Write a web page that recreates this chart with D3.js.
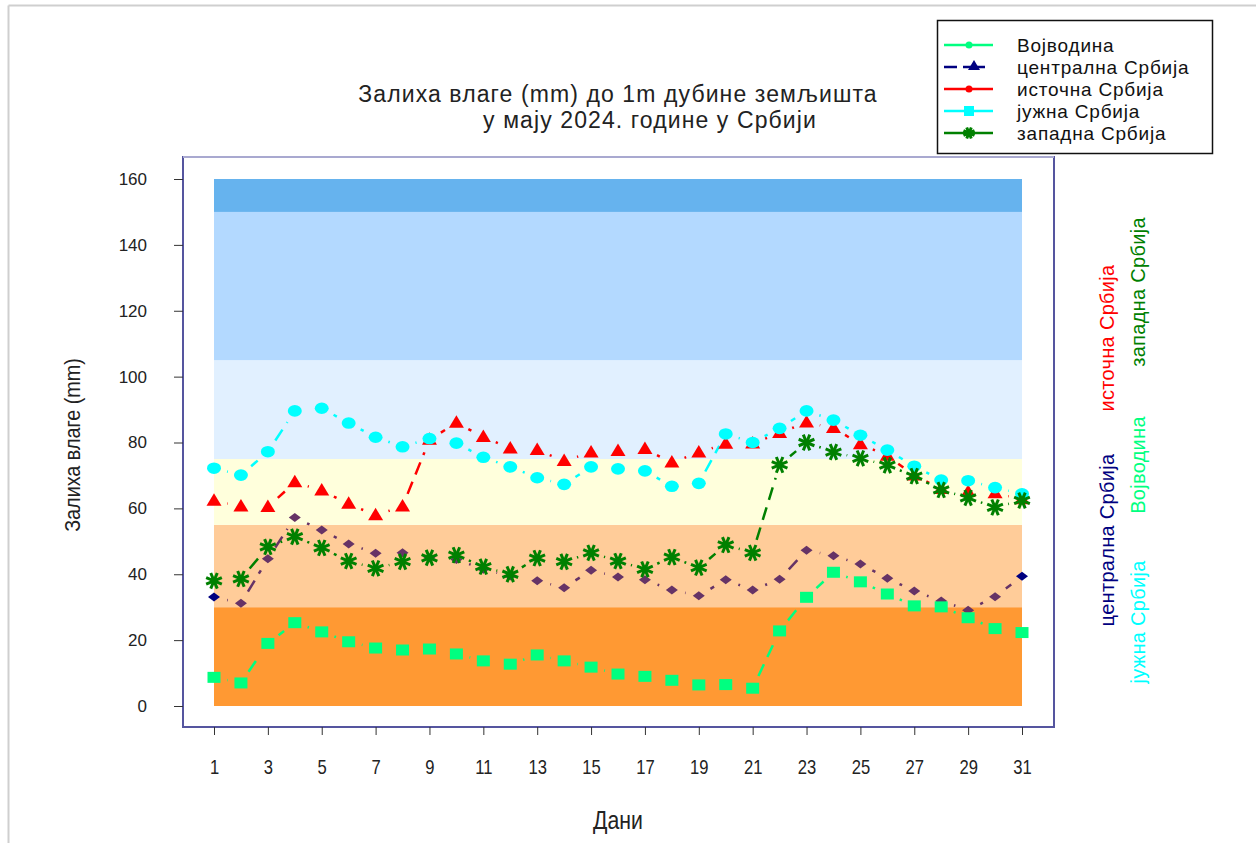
<!DOCTYPE html>
<html>
<head>
<meta charset="utf-8">
<script src="https://cdn.jsdelivr.net/npm/d3@7"></script>
<style>
  body { margin: 0; background: #fff; }
  svg text { font-family: "Liberation Sans", Arial, sans-serif; }
</style>
</head>
<body>
<div id="chart"></div>
<script>
// soil moisture (mm) to 1m depth, May 2024, five regions of Serbia
var days = d3.range(1, 32);
var vojvodina = [8.7, 7, 19, 25.3, 22.5, 19.5, 17.6, 17, 17.3, 15.8, 13.7, 12.7, 15.5, 13.7, 11.8, 9.7, 9, 7.8, 6.4, 6.5, 5.4, 22.8, 33, 40.6, 37.7, 34, 30.4, 30.1, 26.8, 23.5, 22.3];
var centralna = [33.1, 31.2, 44.7, 57.2, 53.4, 49.2, 46.4, 46.5, 45, 44.5, 41.5, 39.5, 38, 35.9, 41.2, 39.2, 38.3, 35.2, 33.5, 38.3, 35.2, 38.5, 47.3, 45.6, 43.1, 38.8, 34.9, 31.9, 29.1, 33.2, 39.4];
var istocna = [62.3, 60.6, 60.4, 67.9, 65.4, 61.4, 57.9, 60.6, 80.8, 86, 81.7, 78.2, 77.7, 74.4, 77, 77.4, 78, 73.9, 77, 79.6, 79.7, 82.9, 86.1, 84.4, 79.5, 76, 70, 65.9, 65, 64.6, 62.8];
var juzna = [72.2, 70.1, 77.2, 89.6, 90.4, 85.9, 81.6, 78.7, 81.2, 79.8, 75.5, 72.6, 69.3, 67.3, 72.6, 72, 71.4, 66.7, 67.6, 82.6, 80, 84.3, 89.6, 86.8, 82.2, 77.7, 72.8, 68.6, 68.4, 66.3, 64.4];
var zapadna = [38, 38.6, 48.3, 51.4, 48, 44, 41.8, 43.8, 45, 45.8, 42.3, 40, 44.9, 43.8, 46.5, 44, 41.5, 45.2, 42, 48.9, 46.5, 73.2, 80, 77.1, 75.2, 73.1, 69.8, 65.6, 63.2, 60.3, 62.4];

var seriesNames = ["Војводина", "централна Србија", "источна Србија", "јужна Србија", "западна Србија"];
var seriesColors = ["#00FF80", "#000080", "#FF0000", "#00FFFF", "#008000"];

// moisture classes drawn as horizontal bands
var bandLimits = [0, 30, 55, 75, 105, 150, 160];
var bandColors = ["#FF9933", "#FFCC99", "#FFFFDC", "#E1F0FF", "#B3D9FF", "#66B3EE"];

var yTicks = d3.range(0, 161, 20);
var xTicks = d3.range(1, 32, 2);

var W = 1256, H = 843;
var svg = d3.select("#chart").append("svg").attr("width", W).attr("height", H);

// outer border (only top and left visible)
svg.append("line").attr("x1", 8.5).attr("y1", 5.5).attr("x2", W).attr("y2", 5.5)
  .attr("stroke", "#cfcfcf").attr("stroke-width", 2);
svg.append("line").attr("x1", 8.5).attr("y1", 5.5).attr("x2", 8.5).attr("y2", H)
  .attr("stroke", "#cfcfcf").attr("stroke-width", 2);

var x = d3.scaleLinear().domain([1, 31]).range([214, 1022]);
var y = d3.scaleLinear().domain([0, 160]).range([706, 179]);

var frame = {left: 183, top: 157, right: 1054, bottom: 727};

// bands
for (var i = 0; i < bandColors.length; i++) {
  svg.append("rect")
    .attr("x", x(1)).attr("width", x(31) - x(1))
    .attr("y", y(bandLimits[i + 1])).attr("height", y(bandLimits[i]) - y(bandLimits[i + 1]))
    .attr("fill", bandColors[i]);
}

// plot frame
svg.append("rect").attr("x", frame.left).attr("y", frame.top)
  .attr("width", frame.right - frame.left).attr("height", frame.bottom - frame.top)
  .attr("fill", "none").attr("stroke", "#55559F").attr("stroke-width", 2);
svg.append("line").attr("x1", frame.left).attr("x2", frame.right)
  .attr("y1", frame.top).attr("y2", frame.top).attr("stroke", "#A9A9D0").attr("stroke-width", 2);

// axes
var yAxis = svg.append("g").attr("transform", "translate(" + frame.left + ",0)")
  .call(d3.axisLeft(y).tickValues(yTicks).tickSize(9).tickPadding(27));
var xAxis = svg.append("g").attr("transform", "translate(0," + frame.bottom + ")")
  .call(d3.axisBottom(x).tickValues(xTicks).tickSize(8).tickPadding(25));
[yAxis, xAxis].forEach(function(a) {
  a.select(".domain").remove();
  a.selectAll(".tick line").attr("stroke", "#333");
});
yAxis.selectAll("text").attr("font-size", 17).attr("fill", "#222")
  .style("font-family", "'Liberation Sans', Arial, sans-serif");
xAxis.selectAll("text").attr("font-size", 20).attr("fill", "#222")
  .attr("transform", "scale(0.83,1)")
  .style("font-family", "'Liberation Sans', Arial, sans-serif");

// axis titles
svg.append("text")
  .attr("transform", "translate(80,445) rotate(-90) scale(0.9,1)")
  .attr("text-anchor", "middle").attr("font-size", 22).attr("fill", "#222")
  .text("Залиха влаге (mm)");
svg.append("text")
  .attr("transform", "translate(618,829) scale(0.85,1)")
  .attr("text-anchor", "middle")
  .attr("font-size", 25).attr("fill", "#222").text("Дани");

// title
svg.append("text").attr("x", 618).attr("y", 102).attr("text-anchor", "middle")
  .attr("font-size", 23).attr("letter-spacing", 1.1).attr("fill", "#222")
  .text("Залиха влаге (mm) до 1m дубине земљишта");
svg.append("text").attr("x", 650).attr("y", 128).attr("text-anchor", "middle")
  .attr("font-size", 23).attr("letter-spacing", 1.1).attr("fill", "#222")
  .text("у мају 2024. године у Србији");

// line segments: only the middle of every segment shows (markers hide the ends)
function drawLine(values, color) {
  var g = svg.append("g");
  for (var k = 0; k < values.length - 1; k++) {
    var x0 = x(days[k]), y0 = y(values[k]), x1 = x(days[k + 1]), y1 = y(values[k + 1]);
    var L = Math.hypot(x1 - x0, y1 - y0), gap = 13.5;
    if (L - 2 * gap <= 0.5) continue;
    var pat = [0, gap], rest = L - 2 * gap;
    while (rest > 0) {
      var d = Math.min(13, rest);
      pat.push(d); rest -= d;
      if (rest > 0) { var o = Math.min(8, rest); pat.push(o); rest -= o; }
    }
    if (pat.length % 2 === 1) pat.push(0);
    pat.push(0, L);
    g.append("line").attr("x1", x0).attr("y1", y0).attr("x2", x1).attr("y2", y1)
      .attr("stroke", color).attr("stroke-width", 2.5)
      .attr("stroke-dasharray", pat.join(","));
  }
}
drawLine(centralna, "#663366");
drawLine(istocna, "#FF0000");
drawLine(juzna, "#00FFFF");
drawLine(zapadna, "#008000");
drawLine(vojvodina, "#00FF80");

// marker shapes
function square(g, cx, cy, c) {
  g.append("rect").attr("x", cx - 6.5).attr("y", cy - 5.5).attr("width", 13).attr("height", 11).attr("fill", c);
}
function triangle(g, cx, cy, c, s) {
  s = s || 1;
  g.append("path").attr("d", "M" + cx + "," + (cy - 7.5 * s) + "L" + (cx + 7.5 * s) + "," + (cy + 5 * s) + "L" + (cx - 7.5 * s) + "," + (cy + 5 * s) + "Z").attr("fill", c);
}
function blob(g, cx, cy, c) {
  g.append("ellipse").attr("cx", cx).attr("cy", cy).attr("rx", 7).attr("ry", 5.8).attr("fill", c);
}
function diamond(g, cx, cy, c) {
  g.append("path").attr("d", "M" + (cx - 6) + "," + cy + "L" + cx + "," + (cy - 4.5) + "L" + (cx + 6) + "," + cy + "L" + cx + "," + (cy + 4.5) + "Z").attr("fill", c);
}
function star(g, cx, cy, c, r) {
  r = r || 8.5;
  for (var a = 0; a < 4; a++) {
    var t = a * Math.PI / 4 + Math.PI / 8;
    g.append("line").attr("x1", cx - r * Math.cos(t)).attr("y1", cy - r * Math.sin(t))
      .attr("x2", cx + r * Math.cos(t)).attr("y2", cy + r * Math.sin(t))
      .attr("stroke", c).attr("stroke-width", 3);
  }
  g.append("circle").attr("cx", cx).attr("cy", cy).attr("r", 3.5).attr("fill", c);
}

var mk = svg.append("g");
centralna.forEach(function(v, k) {
  var c = (k === 0 || k === centralna.length - 1) ? "#000080" : "#663366";
  diamond(mk, x(days[k]), y(v), c);
});
istocna.forEach(function(v, k) { triangle(mk, x(days[k]), y(v), "#FF0000"); });
juzna.forEach(function(v, k) { blob(mk, x(days[k]), y(v), "#00FFFF"); });
zapadna.forEach(function(v, k) { star(mk, x(days[k]), y(v), "#008000"); });
vojvodina.forEach(function(v, k) { square(mk, x(days[k]), y(v), "#00FF80"); });

// legend
var lg = svg.append("g");
lg.append("rect").attr("x", 937.5).attr("y", 20.5).attr("width", 275).attr("height", 133)
  .attr("fill", "#fff").attr("stroke", "#111").attr("stroke-width", 1.5);
var rowY = [45, 67, 89, 111, 133];
seriesNames.forEach(function(name, k) {
  var cy = rowY[k], c = seriesColors[k];
  if (k === 1) {
    lg.append("line").attr("x1", 944).attr("x2", 957).attr("y1", cy).attr("y2", cy).attr("stroke", c).attr("stroke-width", 2.5);
    lg.append("line").attr("x1", 963).attr("x2", 985).attr("y1", cy).attr("y2", cy).attr("stroke", c).attr("stroke-width", 2.5);
    triangle(lg, 974, cy - 1, c, 0.8);
  } else {
    lg.append("line").attr("x1", 944).attr("x2", 993).attr("y1", cy).attr("y2", cy).attr("stroke", c).attr("stroke-width", 2.5);
    if (k === 0 || k === 2) lg.append("circle").attr("cx", 969).attr("cy", cy).attr("r", 3.5).attr("fill", c);
    if (k === 3) lg.append("rect").attr("x", 964).attr("y", cy - 5).attr("width", 10).attr("height", 10).attr("fill", c);
    if (k === 4) star(lg, 969, cy, c, 6);
  }
  lg.append("text").attr("x", 1017).attr("y", cy + 6.5).attr("font-size", 19).attr("letter-spacing", 0.8)
    .attr("fill", "#111").text(name);
});

// rotated region labels on the right
var sideLabels = [
  {name: "источна Србија", color: "#FF0000", cx: 1107, cy: 338},
  {name: "западна Србија", color: "#008000", cx: 1138, cy: 292},
  {name: "централна Србија", color: "#000080", cx: 1107, cy: 540},
  {name: "Војводина", color: "#00FF80", cx: 1138, cy: 465},
  {name: "јужна Србија", color: "#00FFFF", cx: 1138, cy: 622}
];
sideLabels.forEach(function(s) {
  svg.append("text")
    .attr("transform", "translate(" + s.cx + "," + s.cy + ") rotate(-90)")
    .attr("text-anchor", "middle").attr("dominant-baseline", "central")
    .attr("font-size", 20).attr("letter-spacing", 0.3).attr("fill", s.color).text(s.name);
});
</script>
</body>
</html>
